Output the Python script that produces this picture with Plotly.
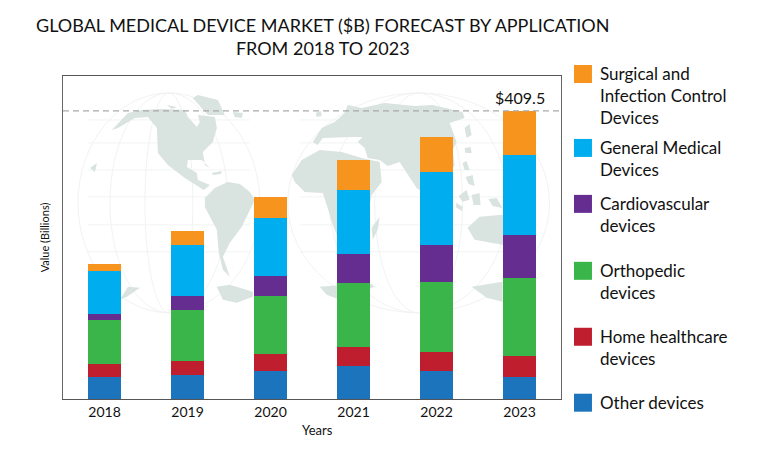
import plotly.graph_objects as go

years = ["2018", "2019", "2020", "2021", "2022", "2023"]
other = [31.7, 33.6, 39.3, 47.3, 39.8, 31.9]
home = [17.5, 19.9, 25.1, 26.5, 26.5, 29.8]
ortho = [62.5, 72.4, 81.4, 91.8, 100.4, 109.8]
cardio = [9.0, 20.8, 28.4, 40.7, 52.5, 62.0]
general = [61.0, 72.0, 83.8, 90.9, 103.2, 113.2]
surgical = [10.4, 20.4, 29.8, 43.1, 49.7, 62.8]

series_names = ["Other devices", "Home healthcare devices", "Orthopedic devices",
                "Cardiovascular devices", "General Medical Devices",
                "Surgical and Infection Control Devices"]
series_values = [other, home, ortho, cardio, general, surgical]
series_colors = ["#1C75BC", "#BE1E2D", "#39B54A", "#662D91", "#00AEEF", "#F7941E"]

# legend text is wrapped by hand, order top to bottom
legend_labels = [
    ("Surgical and<br>Infection Control<br>Devices", "#F7941E", 65),
    ("General Medical<br>Devices", "#00AEEF", 139),
    ("Cardiovascular<br>devices", "#662D91", 195),
    ("Orthopedic<br>devices", "#39B54A", 262),
    ("Home healthcare<br>devices", "#BE1E2D", 328),
    ("Other devices", "#1C75BC", 394),
]

total_label = "$409.5"
total_value = 409.5

# plot box in pixels
W, H = 770, 451
LEFT, RIGHT, TOP, BOTTOM = 63, 561.5, 76, 399.3
FONT = "Lato"
LAND = "#D9E3E0"
GRID = "#F1F3F2"

# background world map outlines, traced by eye (pixels)
land_shapes = [
    # north america
    [(112, 130), (128, 113), (142, 110), (160, 109), (185, 110), (188, 117), (197, 127), (200, 122),
     (198, 115), (215, 117), (217, 128), (213, 142), (203, 152), (205, 165), (210, 168), (202, 160),
     (188, 160), (187, 167), (197, 173), (198, 180), (210, 185), (204, 190), (185, 178), (168, 165),
     (158, 153), (157, 128), (148, 117), (135, 118), (118, 128)],
    # greenland and arctic islands
    [(193, 98), (198, 95), (218, 100), (225, 115), (208, 115)],
    [(233, 112), (243, 113), (242, 118), (235, 117)],
    [(167, 105), (177, 107), (172, 109)],
    # caribbean and pacific islands
    [(212, 173), (222, 171), (221, 174), (213, 175)],
    [(90, 168), (97, 163), (95, 172)],
    # south america
    [(205, 198), (215, 188), (228, 182), (240, 184), (250, 192), (255, 200), (242, 227), (230, 243),
     (223, 257), (230, 277), (223, 270), (219, 253), (217, 230), (205, 207)],
    # antarctica pieces
    [(217, 287), (230, 285), (253, 292), (253, 297), (237, 303), (223, 300)],
    [(120, 300), (128, 287), (140, 288), (127, 297)],
    [(320, 287), (370, 283), (375, 287), (340, 300), (327, 295)],
    [(472, 287), (503, 282), (503, 302), (487, 298)],
    # europe and asia
    [(313, 142), (322, 128), (335, 122), (345, 113), (348, 105), (362, 108), (385, 103), (415, 106),
     (433, 105), (463, 112), (465, 118), (450, 123), (457, 142), (453, 150), (455, 165), (440, 190),
     (420, 190), (417, 188), (400, 162), (388, 166), (380, 160), (368, 158), (365, 148), (358, 142),
     (363, 137), (352, 137), (323, 138), (318, 145)],
    # africa and arabia
    [(292, 175), (302, 160), (320, 150), (342, 152), (362, 158), (380, 162), (382, 182), (372, 195),
     (368, 215), (352, 250), (342, 250), (337, 235), (332, 222), (328, 208), (323, 193), (305, 192), (295, 182)],
    [(372, 228), (380, 217), (378, 230), (373, 240)],
    # uk
    [(316, 113), (321, 111), (322, 116), (317, 117)],
    # australia and islands
    [(468, 228), (480, 217), (503, 215), (520, 230), (537, 248), (530, 255), (503, 245), (475, 240)],
    [(465, 128), (470, 124), (472, 135), (467, 138)],
    [(465, 148), (471, 147), (472, 153), (466, 153)],
    [(463, 163), (467, 161), (470, 170), (465, 170)],
    [(466, 177), (473, 175), (475, 186), (469, 184)],
    [(459, 196), (467, 190), (470, 200), (463, 202)],
    [(472, 195), (480, 193), (481, 205), (474, 205)],
    [(457, 203), (463, 207), (462, 211), (456, 207)],
    [(489, 199), (497, 198), (503, 208), (493, 206)],
]
# interrupted globe outline as (x0, x1) ellipses, plus latitude lines
globe_ellipses = [(78, 260), (110, 228), (145, 193), (288, 550), (330, 508), (375, 463)]
globe_y = (93, 313)
lat_lines = [120, 143, 170, 197, 225, 252]


def px_x(x):
    return (x - LEFT) / (RIGHT - LEFT)


def px_y(y):
    return (BOTTOM - y) / (BOTTOM - TOP)


shapes = []
for x0, x1 in globe_ellipses:
    shapes.append(dict(type="circle", xref="paper", yref="paper", layer="below",
                       x0=px_x(x0), x1=px_x(x1), y0=px_y(globe_y[1]), y1=px_y(globe_y[0]),
                       line=dict(color=GRID, width=1)))
for y in lat_lines:
    for x0, x1 in [(88, 250), (300, 538)]:
        shapes.append(dict(type="line", xref="paper", yref="paper", layer="below",
                           x0=px_x(x0), x1=px_x(x1), y0=px_y(y), y1=px_y(y),
                           line=dict(color=GRID, width=1)))
for poly in land_shapes:
    path = "M " + " L ".join(f"{px_x(x):.4f},{px_y(y):.4f}" for x, y in poly) + " Z"
    shapes.append(dict(type="path", xref="paper", yref="paper", layer="below", path=path,
                       fillcolor=LAND, line=dict(width=0)))

# dashed total line
shapes.append(dict(type="line", xref="paper", yref="y", x0=0, x1=1, y0=total_value, y1=total_value,
                   line=dict(color="#A9A9A9", width=1.3, dash="6px,4px")))

annotations = []
for text, color, sw_top in legend_labels:
    shapes.append(dict(type="rect", xref="paper", yref="paper", layer="above",
                       x0=px_x(574.5), x1=px_x(592.5), y0=px_y(sw_top + 18), y1=px_y(sw_top),
                       fillcolor=color, line=dict(width=0)))
    annotations.append(dict(xref="paper", yref="paper", x=px_x(599), y=px_y(sw_top - 4),
                            text=text, showarrow=False, xanchor="left", yanchor="top", align="left",
                            font=dict(family=FONT, size=17, color="#111")))

annotations.append(dict(xref="x", yref="y", x=years.index("2023"), y=total_value, yshift=2, text=total_label,
                        showarrow=False, yanchor="bottom", font=dict(family=FONT, size=16, color="#111")))
annotations.append(dict(xref="paper", yref="paper", x=px_x(323), y=px_y(12), yanchor="top",
                        text="GLOBAL MEDICAL DEVICE MARKET ($B) FORECAST BY APPLICATION<br>FROM 2018 TO 2023",
                        showarrow=False, font=dict(family=FONT, size=18, color="#111")))
annotations.append(dict(xref="paper", yref="paper", x=px_x(318), y=px_y(430), yanchor="middle", text="Years",
                        showarrow=False, font=dict(family=FONT, size=13, color="#111")))

fig = go.Figure()
for name, values, color in zip(series_names, series_values, series_colors):
    fig.add_trace(go.Bar(x=years, y=values, name=name, marker=dict(color=color, line=dict(width=0)),
                         width=0.39, showlegend=False))

fig.update_layout(
    barmode="stack",
    width=W, height=H,
    margin=dict(l=LEFT, r=W - RIGHT, t=TOP, b=H - BOTTOM, pad=0),
    paper_bgcolor="white",
    plot_bgcolor="rgba(0,0,0,0)",
    font=dict(family=FONT, color="#111"),
    shapes=shapes,
    annotations=annotations,
)
fig.update_xaxes(type="category", range=[-0.5, 5.5], showline=True, linecolor="#555", linewidth=1, mirror=True,
                 showgrid=False, ticks="", tickfont=dict(size=14, family=FONT))
fig.update_yaxes(range=[0, 459.2], showline=True, linecolor="#666", linewidth=1, mirror=True,
                 showgrid=False, zeroline=False, showticklabels=False, ticks="",
                 title=dict(text="Value (Billions)", font=dict(size=11, family=FONT), standoff=10))

fig.write_html("out.html", config={"displayModeBar": False}, post_script="document.body.style.margin='0';")
